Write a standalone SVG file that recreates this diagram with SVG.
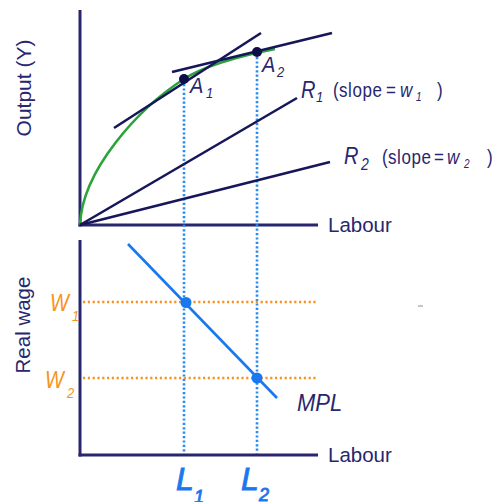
<svg xmlns="http://www.w3.org/2000/svg" width="495" height="502" viewBox="0 0 495 502">
<style>
.ax{stroke:#27276f;stroke-width:3;fill:none;stroke-linecap:butt}
.ln{stroke:#16165a;stroke-width:2.6;fill:none}
.bdot{stroke:#2a8cf0;stroke-width:2.6;stroke-dasharray:2.2 2.2;fill:none}
.odot{stroke:#f7931e;stroke-width:2.6;stroke-dasharray:2.2 2.6;fill:none}
.t{font-family:"Liberation Sans",Arial,sans-serif;fill:#27276f}
.i{font-style:italic}
.o{fill:#f7931e}
.b{fill:#1a78ee;stroke:#1a78ee;stroke-width:0.9}
</style>
<rect width="495" height="502" fill="#fff"/>
<g id="top-axes">
<line class="ax" x1="80" y1="10" x2="80" y2="226.5"/>
<line class="ax" x1="78.5" y1="225" x2="318" y2="225"/>
<text class="t" x="328" y="232" font-size="20.5">Labour</text>
<text class="t" font-size="21" text-anchor="middle" transform="translate(31,88) rotate(-90)">Output (Y)</text>
</g>
<g id="bottom-axes">
<line class="ax" x1="80" y1="240" x2="80" y2="456.5"/>
<line class="ax" x1="78.5" y1="455" x2="318" y2="455"/>
<text class="t" x="328" y="462" font-size="20.5">Labour</text>
<text class="t" font-size="20.5" text-anchor="middle" transform="translate(30,325) rotate(-90)">Real wage</text>
</g>
<g id="connectors">
<line class="bdot" x1="184" y1="84" x2="184" y2="454"/>
<line class="bdot" x1="257" y1="57" x2="257" y2="454"/>
<line class="odot" x1="83" y1="302" x2="318" y2="302"/>
<line class="odot" x1="83" y1="378" x2="318" y2="378"/>
</g>
<g id="production-curve">
<path d="M80,225 C82,170 139,108 184,79 C209,62.8 250,54 275,49" stroke="#2aa33a" stroke-width="2.6" fill="none"/>
</g>
<g id="tangent-A1"><line class="ln" x1="114" y1="128" x2="261" y2="33"/></g>
<g id="tangent-A2"><line class="ln" x1="172" y1="72" x2="332" y2="33"/></g>
<g id="R1">
<line class="ln" x1="80" y1="225" x2="297" y2="98"/>
<text class="t i" font-size="20" transform="translate(301,98) scale(1,1.15)">R</text>
<text class="t i" font-size="13" transform="translate(316,102) scale(1,1.15)">1</text>
<text class="t" font-size="17" transform="translate(333,97) scale(1,1.2)">(</text>
<text class="t" font-size="17" letter-spacing="0.6" transform="translate(339,97) scale(1,1.2)">slope</text>
<text class="t" font-size="17" transform="translate(386,97) scale(1,1.2)">=</text>
<text class="t i" font-size="17" transform="translate(400,97) scale(1,1.2)">w</text>
<text class="t i" font-size="10" transform="translate(416,101) scale(1,1.2)">1</text>
<text class="t" font-size="17" transform="translate(437,97) scale(1,1.2)">)</text>
</g>
<g id="R2">
<line class="ln" x1="80" y1="225" x2="330" y2="162"/>
<text class="t i" font-size="20" transform="translate(344,164) scale(1,1.15)">R</text>
<text class="t i" font-size="14" transform="translate(361,170) scale(1,1.15)">2</text>
<text class="t" font-size="17" transform="translate(382,164) scale(1,1.2)">(</text>
<text class="t" font-size="17" letter-spacing="0.6" transform="translate(388,164) scale(1,1.2)">slope</text>
<text class="t" font-size="17" transform="translate(434,164) scale(1,1.2)">=</text>
<text class="t i" font-size="17" transform="translate(447,164) scale(1,1.2)">w</text>
<text class="t i" font-size="10" transform="translate(464,168) scale(1,1.2)">2</text>
<text class="t" font-size="17" transform="translate(487,164) scale(1,1.2)">)</text>
</g>
<g id="A1">
<circle cx="184" cy="79" r="5" fill="#0d0d4a"/>
<text class="t i" font-size="20" transform="translate(190,93) scale(1,1.08)">A</text>
<text class="t i" font-size="13" transform="translate(206,98) scale(1,1.1)">1</text>
</g>
<g id="A2">
<circle cx="257" cy="52" r="5" fill="#0d0d4a"/>
<text class="t i" font-size="20" transform="translate(262,72) scale(1,1.08)">A</text>
<text class="t i" font-size="13" transform="translate(277,77) scale(1,1.1)">2</text>
</g>
<g id="MPL">
<line x1="128" y1="244" x2="277" y2="398" stroke="#1a78ee" stroke-width="2.6"/>
<text class="t i" font-size="22" transform="translate(297,411) scale(1,1.1)">MPL</text>
</g>
<g id="E1"><circle cx="186" cy="302.5" r="5.5" fill="#1a78ee"/></g>
<g id="E2"><circle cx="257" cy="378" r="5.5" fill="#1a78ee"/></g>
<g id="W1">
<text class="t i o" font-size="20" transform="translate(50,311) scale(1,1.15)">W</text>
<text class="t i o" font-size="13" transform="translate(72,321) scale(1,1.15)">1</text>
</g>
<g id="W2">
<text class="t i o" font-size="20" transform="translate(45,388) scale(1,1.15)">W</text>
<text class="t i o" font-size="13" transform="translate(67,398) scale(1,1.15)">2</text>
</g>
<g id="L1">
<text class="t i b" x="176" y="490" font-size="32">L</text>
<text class="t i b" x="194" y="503" font-size="18">1</text>
</g>
<g id="L2">
<text class="t i b" x="241" y="490" font-size="32">L</text>
<text class="t i b" x="259" y="501" font-size="18">2</text>
</g>
<line x1="418" y1="306" x2="423" y2="306" stroke="#8a8a8a" stroke-width="1"/>
</svg>
